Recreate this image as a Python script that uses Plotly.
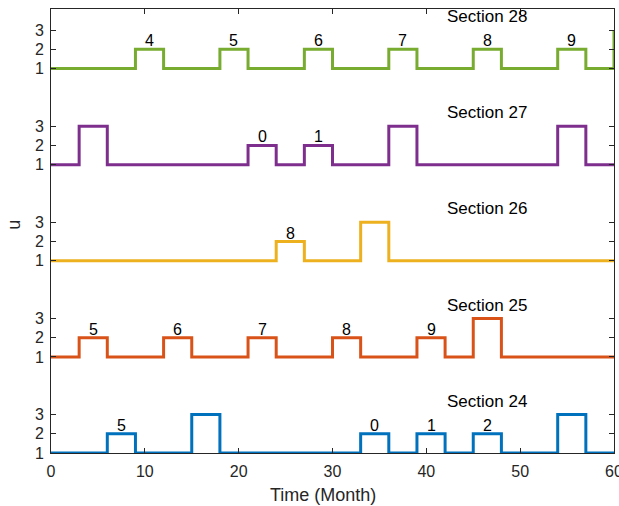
import plotly.graph_objects as go

# ---- data ----
time = [0, 3, 6, 9, 12, 15, 18, 21, 24, 27, 30, 33, 36, 39, 42, 45, 48, 51, 54, 57, 60]

sec24 = [1, 1, 2, 1, 1, 3, 1, 1, 1, 1, 1, 2, 1, 2, 1, 2, 1, 1, 3, 1, 1]
sec25 = [1, 2, 1, 1, 2, 1, 1, 2, 1, 1, 2, 1, 1, 2, 1, 3, 1, 1, 1, 1, 1]
sec26 = [1, 1, 1, 1, 1, 1, 1, 1, 2, 1, 1, 3, 1, 1, 1, 1, 1, 1, 1, 1, 1]
sec27 = [1, 3, 1, 1, 1, 1, 1, 2, 1, 2, 1, 1, 3, 1, 1, 1, 1, 1, 3, 1, 1]
sec28 = [1, 1, 1, 2, 1, 1, 2, 1, 1, 2, 1, 1, 2, 1, 1, 2, 1, 1, 2, 1, 3]

labels24 = ["5", "0", "1", "2"]
labels25 = ["5", "6", "7", "8", "9"]
labels26 = ["8"]
labels27 = ["0", "1"]
labels28 = ["4", "5", "6", "7", "8", "9"]

section_names = ["Section 24", "Section 25", "Section 26", "Section 27", "Section 28"]
colors = ["#0072BD", "#D95319", "#EDB120", "#7E2F8E", "#77AC30"]

series = [sec24, sec25, sec26, sec27, sec28]
labels = [labels24, labels25, labels26, labels27, labels28]
offset_step = 5
step_len = 3
section_label_x = 42
section_label_dy = 2.7

font_family = "Liberation Sans, Arial, sans-serif"
dark = "#262626"

fig = go.Figure()
annotations = []
tickvals, ticktext = [], []
for i, (vals, labs, name, col) in enumerate(zip(series, labels, section_names, colors)):
    off = offset_step * i
    fig.add_trace(go.Scatter(
        x=time, y=[v + off for v in vals], mode="lines",
        line=dict(color=col, width=3, shape="hv"), showlegend=False,
        cliponaxis=False, hoverinfo="skip"))
    xs = [t + step_len / 2 for t, v in zip(time, vals) if v == 2]
    for lx, lt in zip(xs, labs):
        annotations.append(dict(x=lx, y=2 + off, text=lt, showarrow=False,
                                xanchor="center", yanchor="bottom", yshift=-2,
                                font=dict(family=font_family, size=16, color="black")))
    annotations.append(dict(x=section_label_x, y=1 + off + section_label_dy, text=name,
                            showarrow=False, xanchor="left", yanchor="middle",
                            font=dict(family=font_family, size=17, color="black")))
    for k in (1, 2, 3):
        tickvals.append(k + off)
        ticktext.append(str(k))

# axis titles as annotations (placed like the reference)
annotations.append(dict(xref="paper", yref="paper", x=0.484, y=-0.095,
                        text="Time (Month)", showarrow=False,
                        xanchor="center", yanchor="middle",
                        font=dict(family=font_family, size=18, color=dark)))
annotations.append(dict(xref="paper", yref="paper", x=-0.065, y=0.515,
                        text="u", showarrow=False, textangle=-90,
                        xanchor="center", yanchor="middle",
                        font=dict(family=font_family, size=18, color=dark)))

fig.update_layout(
    width=619, height=506,
    margin=dict(l=51, r=5, t=9, b=53, autoexpand=False),
    paper_bgcolor="white", plot_bgcolor="white",
    annotations=annotations,
    font=dict(family=font_family, size=16, color=dark),
    xaxis=dict(range=[0, 60], tickvals=[0, 10, 20, 30, 40, 50, 60],
               ticks="inside", ticklen=5, tickcolor=dark, showline=True,
               linecolor=dark, linewidth=1, mirror="ticks", showgrid=False,
               zeroline=False, automargin=False, ticklabelstandoff=4,
               ticklabeloverflow="allow",
               tickfont=dict(size=16, color=dark)),
    yaxis=dict(range=[1, 24.1], tickvals=tickvals, ticktext=ticktext,
               ticks="inside", ticklen=5, tickcolor=dark, showline=True,
               linecolor=dark, linewidth=1, mirror="ticks", showgrid=False,
               zeroline=False, ticklabelstandoff=3, automargin=False,
               ticklabeloverflow="allow",
               tickfont=dict(size=16, color=dark)),
)

fig.write_html("out.html",
               config={"displayModeBar": False, "staticPlot": True},
               post_script="document.body.style.margin='0';"
                           "document.body.style.overflow='hidden';")
